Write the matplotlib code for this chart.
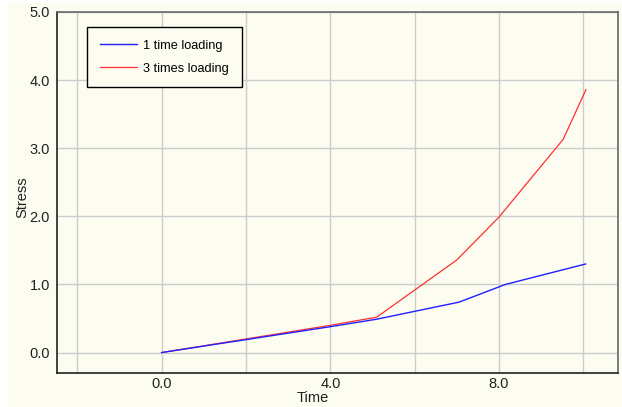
import matplotlib
matplotlib.use("Agg")
import matplotlib.pyplot as plt
from matplotlib.patches import Rectangle

# datos
tiempo_1 = [0.0, 2.0, 4.0, 5.1, 7.05, 8.15, 10.05]
stress_1 = [0.0, 0.19, 0.38, 0.49, 0.74, 1.0, 1.3]

tiempo_3 = [0.0, 2.0, 4.0, 5.1, 7.0, 8.0, 9.52, 10.06]
stress_3 = [0.0, 0.2, 0.4, 0.52, 1.36, 1.99, 3.13, 3.86]

etiquetas = ["1 time loading", "3 times loading"]

fondo = "#fdfcf0"
plt.rcParams['font.family'] = ['Liberation Sans', 'DejaVu Sans']

fig = plt.figure(figsize=(6.22, 4.07), dpi=100)
fig.patch.set_facecolor(fondo)
# franja blanca arriba e izquierda
fig.patches.append(Rectangle((0, 1 - 3 / 407), 1, 3 / 407, transform=fig.transFigure,
                             facecolor="white", edgecolor="none", zorder=-5))
fig.patches.append(Rectangle((0, 0), 8 / 622, 1, transform=fig.transFigure,
                             facecolor="white", edgecolor="none", zorder=-5))

ax = fig.add_axes([57 / 622, 34 / 407, 561 / 622, 361 / 407])
ax.set_facecolor(fondo)

ax.plot(tiempo_1, stress_1, color="#2020ff", lw=1.0, label=etiquetas[0], zorder=3)
ax.plot(tiempo_3, stress_3, color="#ff3030", lw=0.9, label=etiquetas[1], zorder=2)

ax.set_xlim(-2.48, 10.82)
ax.set_ylim(-0.30, 5.0)
ax.set_xticks([-2, 0, 2, 4, 6, 8, 10])
ax.set_xticklabels(["", "0.0", "", "4.0", "", "8.0", ""])
ax.set_yticks([0, 1, 2, 3, 4, 5])
ax.set_yticklabels(["0.0", "1.0", "2.0", "3.0", "4.0", "5.0"])
ax.tick_params(length=0, labelsize=10.5, colors="#222222")
ax.tick_params(axis="x", pad=3)
ax.tick_params(axis="y", pad=5)
ax.grid(True, color="#cccccc", lw=1.0)
ax.set_axisbelow(True)

for lado in ["left", "bottom"]:
    ax.spines[lado].set_color("#222222")
    ax.spines[lado].set_linewidth(1.2)
for lado in ["top", "right"]:
    ax.spines[lado].set_color("#666666")
    ax.spines[lado].set_linewidth(1.2)

fig.text(313 / 622, 9 / 407, "Time", fontsize=10.5, ha="center", va="center", color="#222222")
fig.text(22 / 622, 210 / 407, "Stress", fontsize=10.5, ha="center", va="center",
         rotation=90, color="#222222")

leg = ax.legend(loc="upper left", bbox_to_anchor=(30 / 561, 1 - 15 / 361),
                prop={"size": 9.2},
                frameon=True, fancybox=False, handlelength=2.9, borderpad=1.0,
                labelspacing=0.85, handletextpad=0.5, borderaxespad=0)
leg.get_frame().set_edgecolor("black")
leg.get_frame().set_facecolor(fondo)
leg.get_frame().set_linewidth(1.0)
leg.get_frame().set_alpha(1)

plt.savefig("out.png", dpi=100, facecolor=fondo)
